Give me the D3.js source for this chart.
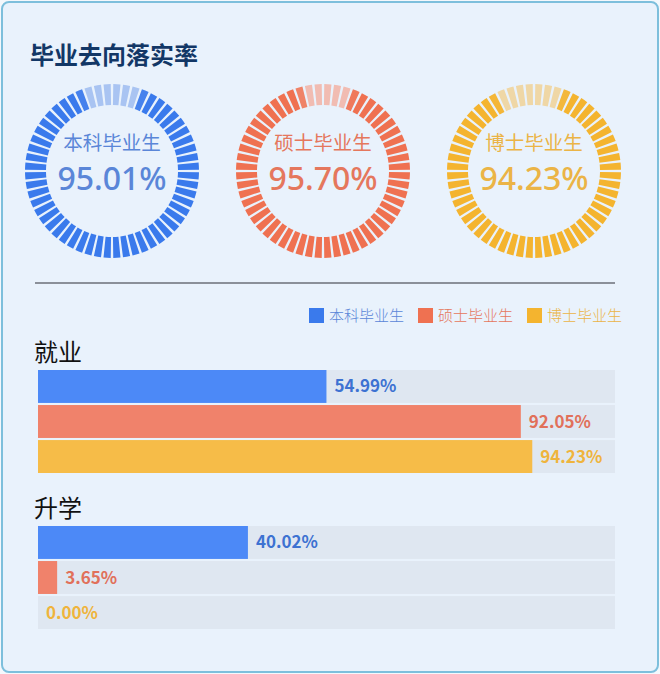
<!DOCTYPE html>
<html>
<head>
<meta charset="utf-8">
<script src="https://cdn.jsdelivr.net/npm/d3@7"></script>
<style>
  body { margin: 0; background: #f4f8fc; }
  svg { display: block; font-family: "Noto Sans CJK SC", "Noto Sans", sans-serif; }
</style>
</head>
<body>
<div id="chart"></div>
<script>
// data
const groups = ['本科毕业生', '硕士毕业生', '博士毕业生'];
const rates = [95.01, 95.70, 94.23];
const categories = ['就业', '升学'];
const employed = [54.99, 92.05, 94.23];
const furtherStudy = [40.02, 3.65, 0.00];
const title = '毕业去向落实率';

const colors = ['#3a7aec', '#ef7151', '#f4b42f'];
const lightColors = ['#a9c4f2', '#f1bcb2', '#efd7a6'];
const textColors = ['#5a86d8', '#e5775d', '#ebb446'];
const barColors = ['#4c89f7', '#f0826b', '#f6bc48'];
const labelColors = ['#3d72d2', '#e1705a', '#efb43c'];

const width = 660, height = 674;

const svg = d3.select('#chart')
  .append('svg')
  .attr('width', width)
  .attr('height', height);

// card
svg.append('rect')
  .attr('x', 2).attr('y', 2)
  .attr('width', width - 4).attr('height', height - 4)
  .attr('rx', 7)
  .attr('fill', '#e9f2fc')
  .attr('stroke', '#7dbfdc')
  .attr('stroke-width', 2);

svg.append('text')
  .attr('x', 30).attr('y', 64)
  .attr('font-size', 24)
  .attr('font-weight', 700)
  .attr('fill', '#123766')
  .text(title);

// ---- gauges ----
const nSeg = 56;
const rOuter = 87, rInner = 66;
const step = 2 * Math.PI / nSeg;
const gapScale = d3.scaleLinear().domain([90, 100]).range([80, 0]); // degrees of "light" arc
const cxScale = d3.scalePoint().domain(groups).range([112, 534]);
const cy = 171;
const arc = d3.arc().innerRadius(rInner).outerRadius(rOuter);

groups.forEach((name, i) => {
  const g = svg.append('g')
    .attr('transform', `translate(${cxScale(name)},${cy})`);

  const lightEnd = 20 * Math.PI / 180;
  const lightStart = lightEnd - gapScale(rates[i]) * Math.PI / 180;
  const mix = d3.interpolateRgb(colors[i], lightColors[i]);

  const segs = d3.range(nSeg).map(k => {
    let a0 = -Math.PI + k * step;  // start from bottom so top is centred
    let a1 = a0 + step;
    // portion of the segment inside light arc
    const ov = Math.max(0, Math.min(a1, lightEnd) - Math.max(a0, lightStart)) / step;
    return { a0, a1, ov };
  });

  g.selectAll('path')
    .data(segs)
    .enter()
    .append('path')
    .attr('d', d => arc({ startAngle: d.a0 + step * 0.13, endAngle: d.a1 - step * 0.13 }))
    .attr('fill', d => mix(d.ov));

  g.append('text')
    .attr('text-anchor', 'middle')
    .attr('y', -21)
    .attr('font-size', 19.5)
    .attr('fill', textColors[i])
    .text(name);

  g.append('text')
    .attr('text-anchor', 'middle')
    .attr('y', 19)
    .attr('font-family', '"Noto Sans", sans-serif')
    .attr('font-size', 32)
    .attr('font-weight', 500)
    .attr('fill', textColors[i])
    .text(rates[i].toFixed(2) + '%');
});

// divider
svg.append('line')
  .attr('x1', 35).attr('x2', 615)
  .attr('y1', 283).attr('y2', 283)
  .attr('stroke', '#8b9099')
  .attr('stroke-width', 2);

// ---- legend ----
const legendX = [309, 418, 527];
const legend = svg.selectAll('.legend')
  .data(groups)
  .enter()
  .append('g')
  .attr('class', 'legend')
  .attr('transform', (d, i) => `translate(${legendX[i]},308)`);

legend.append('rect')
  .attr('width', 15).attr('height', 15)
  .attr('fill', (d, i) => colors[i]);

legend.append('text')
  .attr('x', 20).attr('y', 13)
  .attr('font-size', 15)
  .attr('font-weight', 300)
  .attr('fill', (d, i) => textColors[i])
  .text(d => d);

// ---- bars ----
const x = d3.scaleLinear().domain([0, 110]).range([38, 615]);
const sections = [
  { name: categories[0], values: employed, top: 370 },
  { name: categories[1], values: furtherStudy, top: 526 }
];
const y = d3.scaleBand().domain(groups).range([0, 103]).paddingInner(0.06);

sections.forEach(sec => {
  svg.append('text')
    .attr('x', 34).attr('y', sec.top - 9)
    .attr('font-size', 24)
    .attr('fill', '#111')
    .text(sec.name);

  const g = svg.append('g').attr('transform', `translate(0,${sec.top})`);

  g.selectAll('.track')
    .data(groups)
    .enter()
    .append('rect')
    .attr('class', 'track')
    .attr('x', x(0))
    .attr('y', d => y(d))
    .attr('width', x.range()[1] - x(0))
    .attr('height', y.bandwidth())
    .attr('fill', '#dfe7f1');

  g.selectAll('.bar')
    .data(sec.values)
    .enter()
    .append('rect')
    .attr('class', 'bar')
    .attr('x', x(0))
    .attr('y', (d, i) => y(groups[i]))
    .attr('width', d => x(d) - x(0))
    .attr('height', y.bandwidth())
    .attr('fill', (d, i) => barColors[i]);

  g.selectAll('.val')
    .data(sec.values)
    .enter()
    .append('text')
    .attr('class', 'val')
    .attr('x', d => x(d) + 8)
    .attr('y', (d, i) => y(groups[i]) + y.bandwidth() / 2 + 6)
    .attr('font-size', 17)
    .attr('font-weight', 700)
    .attr('fill', (d, i) => labelColors[i])
    .text(d => d.toFixed(2) + '%');
});
</script>
</body>
</html>
